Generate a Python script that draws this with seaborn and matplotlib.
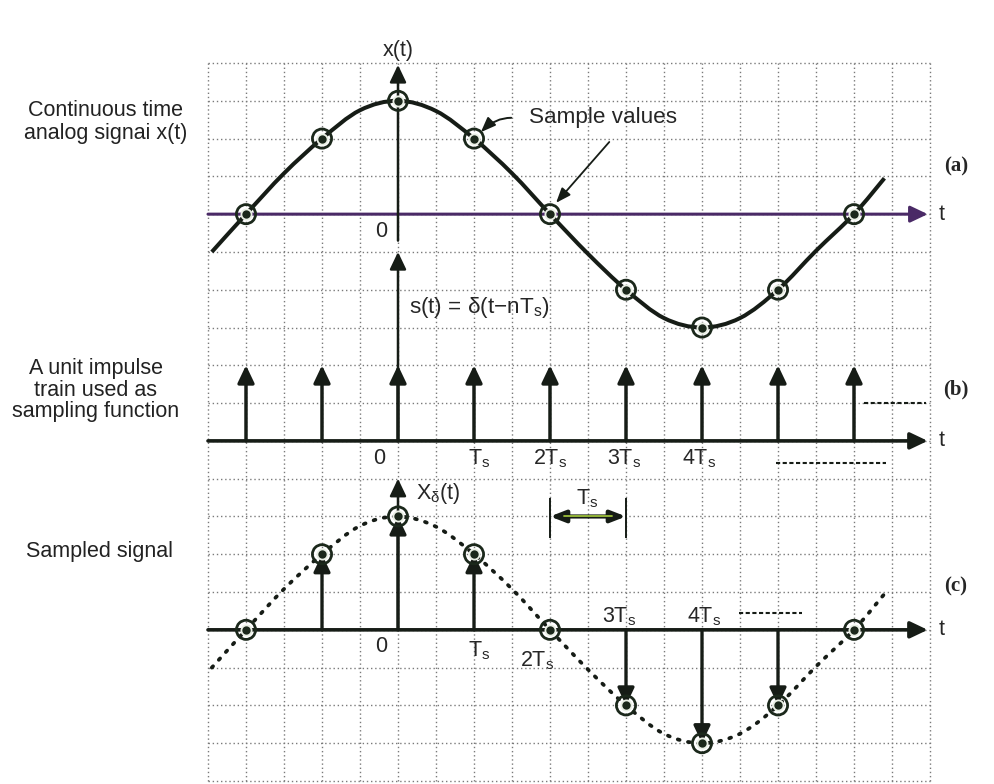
import numpy as np
import pandas as pd
import matplotlib
matplotlib.use("Agg")
import matplotlib.pyplot as plt
from matplotlib.path import Path
from matplotlib.patches import PathPatch
import seaborn as sns

# ---- data (time in units of the sampling period Ts) ----
n_samples = [-2, -1, 0, 1, 2, 3, 4, 5, 6]
x_samples = [0, 2, 3, 2, 0, -2, -3, -2, 0]
impulse_height = 2

# continuous-time signal traced at half-period steps
t_analog = [-2.45, -2, -1.5, -1, -0.5, 0, 0.5, 1, 1.5, 2, 2.5, 3, 3.5, 4, 4.5, 5, 5.5, 6, 6.4]
x_analog = [-1.0, 0, 1.08, 2, 2.75, 3, 2.73, 2, 1.08, 0, -1.05, -2, -2.75, -3, -2.75, -2, -0.97, 0, 0.95]

tick_pos_b = [-0.25, 1.07, 2.0, 2.97, 3.96]
tick_lab_b = ["0", "T$_\\mathrm{s}$", "2T$_\\mathrm{s}$", "3T$_\\mathrm{s}$", "4T$_\\mathrm{s}$"]

# baselines of the three stacked panels (grid units)
BASE_A, BASE_B, BASE_C = 15, 9, 4

INK = "#161c16"
RING = "#1b281b"
PURPLE = "#4a2a66"

sns.set_theme(style="white")
plt.rcParams["font.family"] = ["Liberation Sans", "DejaVu Sans"]
plt.rcParams["mathtext.fontset"] = "custom"
plt.rcParams["mathtext.rm"] = "Liberation Sans"
plt.rcParams["mathtext.it"] = "Liberation Sans:italic"
plt.rcParams["mathtext.bf"] = "Liberation Sans:bold"

W, H = 994, 784
fig = plt.figure(figsize=(W / 100, H / 100), dpi=100)
ax = fig.add_axes([208 / W, 1 - 781 / H, 722 / W, 718 / H])
ax.set_xlim(-2.5, 7.0)
ax.set_ylim(0, 19)

# dotted graph-paper grid
ax.set_xticks(np.arange(-2.5, 7.01, 0.5))
ax.set_yticks(np.arange(0, 19.01, 1))
ax.tick_params(length=0, labelbottom=False, labelleft=False)
ax.grid(True, linestyle=(0, (1, 2)), color="#7a7a7a", linewidth=1.0)
for gl in ax.get_xgridlines() + ax.get_ygridlines():
    gl.set_clip_on(False)
for sp in ax.spines.values():
    sp.set_visible(False)


def smooth_curve(ts, xs, base, **kw):
    """Catmull-Rom curve through the traced points, drawn as cubic Beziers."""
    pts = np.column_stack([ts, np.asarray(xs, float) + base])
    verts = [tuple(pts[0])]
    codes = [Path.MOVETO]
    for i in range(len(pts) - 1):
        p0 = pts[i - 1] if i > 0 else pts[i]
        p1, p2 = pts[i], pts[i + 1]
        p3 = pts[i + 2] if i + 2 < len(pts) else pts[i + 1]
        c1 = p1 + (p2 - p0) / 6.0
        c2 = p2 - (p3 - p1) / 6.0
        verts += [tuple(c1), tuple(c2), tuple(p2)]
        codes += [Path.CURVE4] * 3
    patch = PathPatch(Path(verts, codes), facecolor="none", **kw)
    ax.add_patch(patch)


def arrow(x0, y0, x1, y1, color=INK, lw=2.5, hl=1.05, hw=0.5, zorder=4):
    ax.annotate("", xy=(x1, y1), xytext=(x0, y0),
                arrowprops=dict(arrowstyle=f"-|>,head_length={hl},head_width={hw}",
                                color=color, lw=lw, shrinkA=0, shrinkB=0,
                                mutation_scale=10),
                zorder=zorder, annotation_clip=False)


def rings(ts, ys, edge=RING):
    df = pd.DataFrame({"t": ts, "y": ys})
    sns.scatterplot(data=df, x="t", y="y", ax=ax, s=190, marker="o",
                    facecolor="none", edgecolor=edge, linewidth=2.0, zorder=6,
                    legend=False)
    sns.scatterplot(data=df, x="t", y="y", ax=ax, s=75, marker="o",
                    facecolor="#e9efe4", edgecolor="#e9efe4", linewidth=0, zorder=6.5,
                    legend=False)
    sns.scatterplot(data=df, x="t", y="y", ax=ax, s=36, marker="o",
                    color=edge, edgecolor=edge, linewidth=0, zorder=7, legend=False)


# ---- (a) continuous-time analog signal ----
arrow(-2.5, BASE_A, 6.97, BASE_A, color=PURPLE, lw=2.2)
arrow(0, 14.3, 0, 18.95, lw=1.8)
smooth_curve(t_analog, x_analog, BASE_A, edgecolor=INK, linewidth=2.9, zorder=5)
ya = [v + BASE_A for v in x_samples]
rings(n_samples, ya)

# ---- (b) unit impulse train ----
arrow(-2.5, BASE_B, 6.97, BASE_B, lw=2.6)
arrow(0, BASE_B, 0, 14.0, lw=1.8)
for n in n_samples:
    arrow(n, BASE_B, n, BASE_B + impulse_height)

# ---- (c) sampled signal ----
arrow(-2.5, BASE_C, 6.97, BASE_C, lw=2.6)
arrow(0, BASE_C, 0, 8.0, lw=1.8)
smooth_curve(t_analog, x_analog, BASE_C, edgecolor=INK, linewidth=2.7,
             linestyle=(0, (0.5, 2.3)), capstyle="round", zorder=3)
for n, v in zip(n_samples, x_samples):
    if v != 0:
        arrow(n, BASE_C, n, BASE_C + v, lw=2.4)
yc = [v + BASE_C for v in x_samples]
rings(n_samples, yc)

# sampling-period dimension
ax.vlines([2, 3], 6.43, 7.49, color=INK, lw=1.4, zorder=4)
ax.annotate("", xy=(3, 7), xytext=(2, 7),
            arrowprops=dict(arrowstyle="<|-|>,head_length=0.9,head_width=0.35",
                            color=INK, lw=3.0, shrinkA=0, shrinkB=0, mutation_scale=10),
            zorder=4)
ax.plot([2.18, 2.82], [7, 7], color="#9dbf3a", lw=1.3, zorder=5)

# ---- text ----
fs = 15.5
ax.text(0, 19.34, "x(t)", ha="center", va="center", fontsize=fs, clip_on=False)
ax.text(-0.22, 14.53, "0", ha="center", va="center", fontsize=fs)
ax.text(1.72, 17.55, "Sample values", ha="left", va="center", fontsize=16.2)
ax.annotate("", xy=(1.09, 17.17), xytext=(1.49, 17.55),
            arrowprops=dict(arrowstyle="-|>,head_length=0.9,head_width=0.35",
                            color=INK, lw=1.4, shrinkA=0, shrinkB=0, mutation_scale=10,
                            connectionstyle="angle3,angleA=180,angleB=45"))
ax.annotate("", xy=(2.08, 15.30), xytext=(2.78, 16.91),
            arrowprops=dict(arrowstyle="-|>,head_length=0.9,head_width=0.35",
                            color=INK, lw=1.3, shrinkA=0, shrinkB=0, mutation_scale=10))
ax.text(0.15, 12.54, "s(t) = δ(t−nT$_\\mathrm{s}$)", ha="left", va="center", fontsize=16.2)

for p, lab in zip(tick_pos_b, tick_lab_b):
    ax.text(p, 8.38, lab, ha="center", va="baseline", fontsize=fs)
ax.plot([6.13, 6.95], [10, 10], color=INK, lw=1.5, linestyle=(0, (2, 1.2)))
ax.plot([4.97, 6.42], [8.42, 8.42], color=INK, lw=1.5, linestyle=(0, (2, 1.2)))

ax.text(0.24, 7.62, "X$_\\mathrm{δ}$(t)", ha="left", va="center", fontsize=fs)
ax.text(2.49, 7.31, "T$_\\mathrm{s}$", ha="center", va="baseline", fontsize=fs)
ax.text(-0.22, 3.42, "0", ha="center", va="baseline", fontsize=fs)
ax.text(1.07, 3.29, "T$_\\mathrm{s}$", ha="center", va="baseline", fontsize=fs)
ax.text(1.83, 3.02, "2T$_\\mathrm{s}$", ha="center", va="baseline", fontsize=fs)
ax.text(2.91, 4.19, "3T$_\\mathrm{s}$", ha="center", va="baseline", fontsize=fs)
ax.text(4.03, 4.19, "4T$_\\mathrm{s}$", ha="center", va="baseline", fontsize=fs)
ax.plot([4.49, 5.32], [4.45, 4.45], color=INK, lw=1.5, linestyle=(0, (2, 1.2)))

for base in (BASE_A, BASE_B, BASE_C):
    ax.text(7.15, base, "t", ha="center", va="center", fontsize=fs, clip_on=False)
for y, lab in ((16.25, "(a)"), (10.35, "(b)"), (5.14, "(c)")):
    ax.text(7.34, y, lab, ha="center", va="center", fontsize=15, fontweight="bold",
            family="Liberation Serif", clip_on=False)

fig.text(106 / W, 1 - 122 / H, "Continuous time\nanalog signai x(t)", ha="center",
         va="center", fontsize=fs, linespacing=1.15, color="#222222")
fig.text(96 / W, 1 - 390 / H, "A unit impulse\ntrain used as\nsampling function",
         ha="center", va="center", fontsize=fs, linespacing=1.05, color="#222222")
fig.text(100 / W, 1 - 552 / H, "Sampled signal", ha="center", va="center",
         fontsize=fs, color="#222222")

fig.savefig("out.png", dpi=100, facecolor="white")
